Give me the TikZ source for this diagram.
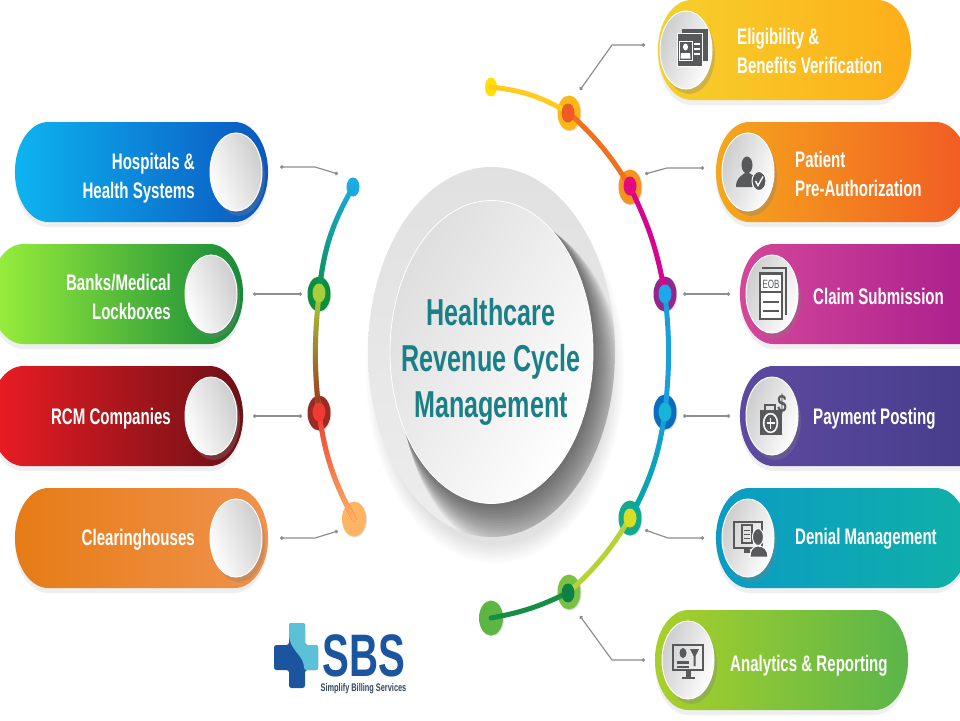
\documentclass[tikz,border=0pt]{standalone}
\usepackage{fontspec}
\setmainfont{Liberation Sans}[FakeStretch=0.67]
\usetikzlibrary{arrows.meta,fadings,shadows,shapes.geometric,shapes.misc}
\definecolor{icongray}{HTML}{58595B}
\definecolor{leadgray}{HTML}{8C8E90}
\definecolor{hubteal}{HTML}{1A7F86}
\definecolor{logodark}{HTML}{1C559F}
\definecolor{logolight}{HTML}{5CC0D6}
\definecolor{logosubtext}{HTML}{33475B}
\definecolor{hospitalsA}{HTML}{0DB4F0}
\definecolor{hospitalsB}{HTML}{0B56C0}
\definecolor{banksA}{HTML}{9BF03C}
\definecolor{banksB}{HTML}{168A38}
\definecolor{rcmA}{HTML}{EC1C24}
\definecolor{rcmB}{HTML}{6E1016}
\definecolor{clearingA}{HTML}{E67C16}
\definecolor{clearingB}{HTML}{F0924C}
\definecolor{eligibilityA}{HTML}{F6D02C}
\definecolor{eligibilityB}{HTML}{FDAE1A}
\definecolor{patientA}{HTML}{F5A81C}
\definecolor{patientB}{HTML}{F15A24}
\definecolor{claimA}{HTML}{D4479A}
\definecolor{claimB}{HTML}{A61C8C}
\definecolor{paymentA}{HTML}{5E4AA0}
\definecolor{paymentB}{HTML}{443B8A}
\definecolor{denialA}{HTML}{0A9CC4}
\definecolor{denialB}{HTML}{10B0A8}
\definecolor{analyticsA}{HTML}{A9D02A}
\definecolor{analyticsB}{HTML}{5AB54A}
\definecolor{dotblue}{HTML}{1AACE2}
\definecolor{dotgreen}{HTML}{0B8F3E}
\definecolor{dotleaf}{HTML}{A8CE3A}
\definecolor{dotbrown}{HTML}{9A2A22}
\definecolor{dotred}{HTML}{EE3A32}
\definecolor{dotpeach}{HTML}{FDB463}
\definecolor{dotyellow}{HTML}{FFE000}
\definecolor{stemyellow}{HTML}{FFCB1F}
\definecolor{dotamber}{HTML}{FBB716}
\definecolor{dotember}{HTML}{EF5A28}
\definecolor{stemorange}{HTML}{F0701E}
\definecolor{dotorange}{HTML}{F7931E}
\definecolor{dotpink}{HTML}{E5097F}
\definecolor{stemmagenta}{HTML}{D6058F}
\definecolor{dotpurple}{HTML}{93278F}
\definecolor{dotsky}{HTML}{1DA8E8}
\definecolor{stemsky}{HTML}{1A9FDC}
\definecolor{dotnavy}{HTML}{0B6CC0}
\definecolor{dotcyan}{HTML}{16B5D8}
\definecolor{stemteal}{HTML}{00A99D}
\definecolor{dotteal}{HTML}{12A98E}
\definecolor{dotlemon}{HTML}{D7DF23}
\definecolor{stemlime}{HTML}{B5D334}
\definecolor{dotlime}{HTML}{7AC143}
\definecolor{dotforest}{HTML}{0E7F45}
\definecolor{stemforest}{HTML}{168F45}
\definecolor{dotgrass}{HTML}{5DB543}
\tikzset{
    pillleft/.style ={
        shape=rounded rectangle,
        minimum width=379.5pt,
        minimum height=100pt,
        inner sep=0pt,
        xscale=0.667,
        transform shape,
        shading angle=120,
        drop shadow={shadow xshift=0pt,shadow yshift=-5pt,opacity=0.12}
    },
    pillright/.style ={
        pillleft,
        shading angle=60
    },
    knob/.style ={
        shape=ellipse,
        minimum width=52pt,
        minimum height=78pt,
        inner sep=0pt,
        draw=white,
        line width=1pt,
        left color=black!20,
        right color=white,
        shading angle=70,
        drop shadow={shadow xshift=3pt,shadow yshift=-5pt,opacity=0.32}
    },
    knobleft/.style ={
        knob,
        left color=white,
        right color=black!20,
        shading angle=110
    },
    pilltext/.style ={
        text=white,
        inner sep=0pt,
        font=\bfseries\fontsize{22.5}{29}\selectfont
    },
    dotring/.style ={
        shape=ellipse,
        minimum width=23pt,
        minimum height=35pt,
        inner sep=0pt,
        drop shadow={shadow xshift=1pt,shadow yshift=-1pt,opacity=0.25}
    },
    dotcore/.style ={
        shape=ellipse,
        minimum width=13pt,
        minimum height=19pt,
        inner sep=0pt
    },
    stem/.style ={
        line width=5pt,
        line cap=round
    },
    leader/.style ={
        draw=leadgray,
        line width=1.2pt,
        {Circle[length=3.5pt]}-{Circle[length=3.5pt]}
    },
    icon/.style ={
        fill=icongray,
        draw=none
    },
    iconcut/.style ={
        draw=white,
        line width=1pt
    }
}
\begin{document}
\begin{tikzpicture}[x=1pt,y=-1pt]
    \useasboundingbox (0,0) rectangle (960,720);
    \clip (0,0) rectangle (960,720);
    \fill[white] (0,0) rectangle (960,720);

    \foreach \r in {0,...,9}
        \fill[black,opacity=0.012] (495,370) ellipse [x radius=116+1.5*\r, y radius=175+2*\r];
    \node[shape=ellipse,minimum width=247pt,minimum height=370pt,inner sep=0pt,top color=black!12,bottom color=black!7] (hubdisc) at(491.5,352) {};
    \begin{scope}
        \clip (491.5,352) ellipse [x radius=123.5, y radius=185];
        \foreach \r in {0,...,19}
            \fill[black,opacity=0.034] (491.5+1.1*\r,352+1.8*\r) ellipse [x radius=101+0.5*\r, y radius=151+0.75*\r];
    \end{scope}
    \node[shape=ellipse,minimum width=203pt,minimum height=303pt,inner sep=0pt,draw=white,line width=0.8pt,left color=black!13,right color=white,shading angle=60] (hubface) at(491.5,352) {};
    \node[text=hubteal,align=center,font=\bfseries\fontsize{37.5}{46}\selectfont] (hubtext) at(491,362) {Healthcare\\Revenue Cycle\\Management};

    \node[pillleft,left color=hospitalsA,right color=hospitalsB] (hospitals) at(141.5,172) {};
    \node[pillleft,left color=banksA,right color=banksB] (banks) at(116.5,294) {};
    \node[pillleft,left color=rcmA,right color=rcmB] (rcm) at(116.5,416) {};
    \node[pillleft,left color=clearingA,right color=clearingB] (clearing) at(141.5,538) {};
    \node[pillright,left color=eligibilityA,right color=eligibilityB] (eligibility) at(784.5,50) {};
    \node[pillright,left color=patientA,right color=patientB] (patient) at(842.5,172) {};
    \node[pillright,left color=claimA,right color=claimB] (claim) at(866.5,294) {};
    \node[pillright,left color=paymentA,right color=paymentB] (payment) at(866.5,416) {};
    \node[pillright,left color=denialA,right color=denialB] (denial) at(842.5,538) {};
    \node[pillright,left color=analyticsA,right color=analyticsB] (analytics) at(781.5,660) {};

    \node[knobleft] (knobhospitals) at(236,172) {};
    \node[knobleft] (knobbanks) at(211,294) {};
    \node[knobleft] (knobrcm) at(211,416) {};
    \node[knobleft] (knobclearing) at(236,538) {};
    \node[knob] (knobeligibility) at(686,50) {};
    \node[knob] (knobpatient) at(748,172) {};
    \node[knob] (knobclaim) at(772,294) {};
    \node[knob] (knobpayment) at(772,416) {};
    \node[knob] (knobdenial) at(748,538) {};
    \node[knob] (knobanalytics) at(688,660) {};

    \node[pilltext,anchor=east,align=right] (texthospitals) at(195,178) {Hospitals \&\\Health Systems};
    \node[pilltext,anchor=east,align=right] (textbanks) at(171,297) {Banks/Medical\\Lockboxes};
    \node[pilltext,anchor=east] (textrcm) at(171,419) {RCM Companies};
    \node[pilltext,anchor=east] (textclearing) at(195,540) {Clearinghouses};
    \node[pilltext,anchor=west,align=left] (texteligibility) at(737,51) {Eligibility \&\\Benefits Verification};
    \node[pilltext,anchor=west,align=left] (textpatient) at(795,174) {Patient\\Pre-Authorization};
    \node[pilltext,anchor=west] (textclaim) at(813,296) {Claim Submission};
    \node[pilltext,anchor=west] (textpayment) at(813,419) {Payment Posting};
    \node[pilltext,anchor=west] (textdenial) at(795,539) {Denial Management};
    \node[pilltext,anchor=west] (textanalytics) at(730,666) {Analytics \& Reporting};

    \node[dotcore,fill=dotblue] (endblue) at(353,187) {};
    \node[dotring,fill=dotgreen] (ringgreen) at(319,294) {};
    \node[dotring,fill=dotbrown] (ringred) at(319,413) {};
    \node[dotring,fill=dotpeach,minimum width=24pt] (endorange) at(354,519) {};
    \node[dotcore,fill=dotyellow,minimum width=12pt] (endyellow) at(491,87) {};
    \node[dotring,fill=dotamber] (ringamber) at(569,113) {};
    \node[dotring,fill=dotorange] (ringorange) at(630,187) {};
    \node[dotring,fill=dotpurple] (ringpurple) at(665,294) {};
    \node[dotring,fill=dotnavy] (ringblue) at(665,412) {};
    \node[dotring,fill=dotteal] (ringteal) at(630,518) {};
    \node[dotring,fill=dotlime] (ringlime) at(569,592) {};
    \node[dotring,fill=dotgrass,minimum width=24pt] (endgreen) at(491,618) {};

    \draw[stem,dotblue] (endblue.center) to[bend right=12] (ringgreen.center);
    \draw[stem,dotgreen,path fading=north] (endblue.center) to[bend right=12] (ringgreen.center);
    \draw[stem,dotleaf] (ringgreen.center) to[bend right=6] (ringred.center);
    \draw[stem,dotbrown,path fading=north] (ringgreen.center) to[bend right=6] (ringred.center);
    \draw[stem,dotred] (ringred.center) to[bend right=10] (endorange.center);
    \draw[stem,dotpeach,path fading=north] (ringred.center) to[bend right=10] (endorange.center);
    \draw[stem,stemyellow] (endyellow.center) to[bend left=12] (ringamber.center);
    \draw[stem,stemorange] (ringamber.center) to[bend left=8] (ringorange.center);
    \draw[stem,stemmagenta] (ringorange.center) to[bend left=8] (ringpurple.center);
    \draw[stem,stemsky] (ringpurple.center) to[bend left=6] (ringblue.center);
    \draw[stem,stemsky] (ringblue.center) to[bend left=10] (ringteal.center);
    \draw[stem,stemteal,path fading=north] (ringblue.center) to[bend left=10] (ringteal.center);
    \draw[stem,stemlime] (ringteal.center) to[bend left=8] (ringlime.center);
    \draw[stem,stemforest] (ringlime.center) to[bend left=8] (endgreen.center);

    \node[dotcore,fill=dotleaf] (coregreen) at(319,293) {};
    \node[dotcore,fill=dotred] (corered) at(319,412) {};
    \node[dotcore,fill=dotember] (coreamber) at(568,113) {};
    \node[dotcore,fill=dotpink] (coreorange) at(630,186) {};
    \node[dotcore,fill=dotsky] (corepurple) at(665,294) {};
    \node[dotcore,fill=dotcyan] (coreblue) at(665,412) {};
    \node[dotcore,fill=dotlemon] (coreteal) at(630,518) {};
    \node[dotcore,fill=dotforest] (corelime) at(568,593) {};

    \coordinate (leadA1) at(280,167);
    \coordinate (leadA2) at(338,174);
    \coordinate (leadB1) at(253,294);
    \coordinate (leadB2) at(302,294);
    \coordinate (leadC1) at(253,416);
    \coordinate (leadC2) at(302,416);
    \coordinate (leadD1) at(280,538);
    \coordinate (leadD2) at(338,531);
    \coordinate (leadE1) at(645,45);
    \coordinate (leadE2) at(580,90);
    \coordinate (leadF1) at(704,168);
    \coordinate (leadF2) at(645,174);
    \coordinate (leadG1) at(730,294);
    \coordinate (leadG2) at(683,294);
    \coordinate (leadH1) at(730,416);
    \coordinate (leadH2) at(683,416);
    \coordinate (leadI1) at(704,538);
    \coordinate (leadI2) at(645,530);
    \coordinate (leadJ1) at(645,660);
    \coordinate (leadJ2) at(580,616);
    \draw[leader] (leadA1) -- (315,167) -- (leadA2);
    \draw[leader] (leadB1) -- (leadB2);
    \draw[leader] (leadC1) -- (leadC2);
    \draw[leader] (leadD1) -- (315,538) -- (leadD2);
    \draw[leader] (leadE1) -- (612,45) -- (leadE2);
    \draw[leader] (leadF1) -- (667,168) -- (leadF2);
    \draw[leader] (leadG1) -- (leadG2);
    \draw[leader] (leadH1) -- (leadH2);
    \draw[leader] (leadI1) -- (668,538) -- (leadI2);
    \draw[leader] (leadJ1) -- (612,660) -- (leadJ2);

    \fill[icon] (682,29) rectangle (708,61);
    \filldraw[icon,iconcut] (677,33) rectangle (702,66);
    \draw[iconcut] (679,41) rectangle (692,60);
    \fill[white] (685.5,47) ellipse [x radius=2.5, y radius=3.5];
    \fill[white] (680.5,58.5) -- (681,53) -- (690,53) -- (690.5,58.5) -- cycle;
    \draw[iconcut,line width=1.2pt] (694,44) -- (700,44) (694,49) -- (700,49) (694,54) -- (700,54);

    \fill[icon] (747,165) ellipse [x radius=5.5, y radius=8.5];
    \fill[icon] (736,187) .. controls (736,178) and (741,176) .. (745,173) -- (749,173) .. controls (753,176) and (757,176) .. (758,180) -- (752,187) -- cycle;
    \filldraw[icon,iconcut] (759,181) ellipse [x radius=7, y radius=9.5];
    \draw[iconcut,line width=1.4pt] (755.5,181) -- (758,185.5) -- (763,176.5);

    \draw[icongray,line width=1.4pt] (762,268) -- (786,268) -- (786,315);
    \filldraw[icon] (759,272) rectangle (783,320);
    \fill[white] (761,275) rectangle (781,318);
    \node[text=icongray,inner sep=0pt,font=\fontsize{12}{12}\selectfont] (eobtext) at(771,284.5) {EOB};
    \draw[icongray,line width=1.6pt] (760,292) -- (782,292);
    \draw[icongray,line width=1.6pt] (763,302) -- (779,302);
    \draw[icongray,line width=1.6pt] (763,311) -- (779,311);

    \draw[icongray,line width=1.5pt] (765,411) -- (765,405) -- (775,405) -- (775,411);
    \fill[icon] (760,410) rectangle (782,435);
    \filldraw[white] (770.5,423) ellipse [x radius=7.5, y radius=10];
    \fill[icon] (770.5,423) ellipse [x radius=6, y radius=8.5];
    \draw[white,line width=1.3pt] (766.5,423) -- (774.5,423) (770.5,417.5) -- (770.5,428.5);
    \node[text=icongray,inner sep=0pt,font=\bfseries\fontsize{25}{25}\selectfont] (dollartext) at(782,404) {\$};

    \draw[icongray,line width=1.4pt] (734,522) rectangle (762,548);
    \fill[icon] (744,548) rectangle (750,553);
    \draw[icongray,line width=1.2pt] (742,525) rectangle (752,543);
    \draw[icongray,line width=1pt] (744,530) -- (750,530) (744,534) -- (750,534) (744,538) -- (750,538);
    \filldraw[icon,iconcut] (758,537) ellipse [x radius=5.5, y radius=8.5];
    \filldraw[icon,iconcut] (750,557) .. controls (750,550) and (753,546) .. (758,546) .. controls (764,546) and (768,550) .. (768,557) -- cycle;

    \draw[icongray,line width=1.4pt] (673,645) rectangle (703,670);
    \fill[icon] (686,670) rectangle (691,677);
    \fill[icon] (682,676.5) rectangle (695,679);
    \fill[icon] (683,653) ellipse [x radius=3.5, y radius=5];
    \fill[icon] (677,661) rectangle (689,663.5);
    \fill[icon] (677,665.5) rectangle (689,668);
    \fill[icon] (690,649) -- (699,649) -- (695.5,656) -- (695.5,666) -- (693.5,666) -- (693.5,656) -- cycle;

    \fill[logodark,rounded corners=2.5pt] (289,645) -- (289,623) -- (305,623) -- (305,645) -- (318,645) -- (318,670) -- (305,670) -- (305,688) -- (289,688) -- (289,670) -- (274,670) -- (274,645) -- cycle;
    \fill[logolight,rounded corners=2.5pt] (289,623) -- (305,623) -- (305,645) -- (318,645) -- (318,670) -- (304,670) .. controls (304,655) and (289,650) .. (289,632) -- cycle;
    \node[text=logodark,inner sep=0pt,text height=44pt,text depth=0pt,font=\bfseries\fontsize{60}{60}\selectfont] (logotext) at(364,654) {SBS};
    \node[text=logosubtext,inner sep=0pt,font=\bfseries\fontsize{11}{11}\selectfont] (logosub) at(363.5,688.5) {Simplify Billing Services};
\end{tikzpicture}
\end{document}
